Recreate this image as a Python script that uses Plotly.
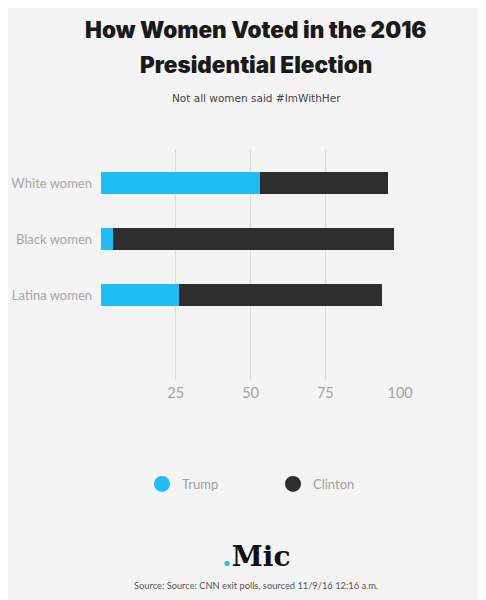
import plotly.graph_objects as go

groups = ['White women', 'Black women', 'Latina women']
trump = [53, 4, 26]
clinton = [43, 94, 68]
tick_vals = [0, 25, 50, 75, 100]
tick_text = ['', '25', '50', '75', '100']

blue = '#1fbdf3'
dark = '#2e2e2e'
bg = '#f4f4f4'

# the page body adds an 8px offset, so pixel positions are shifted back by it
off = 8
plot_left, plot_top, plot_w, plot_h = 101 - off, 150 - off, 300, 230

data = []
data.append(go.Bar(name='Trump', y=groups, x=trump, orientation='h',
                   marker=dict(color=blue, line=dict(width=0)),
                   width=0.38, showlegend=False))
data.append(go.Bar(name='Clinton', y=groups, x=clinton, orientation='h',
                   marker=dict(color=dark, line=dict(width=0)),
                   width=0.38, showlegend=False))

# legend entries drawn as round markers
for name, col in [('Trump', blue), ('Clinton', dark)]:
    data.append(go.Scatter(name=name, x=[None], y=[None], mode='markers',
                           marker=dict(color=col, size=22, symbol='circle')))

layout = go.Layout(
    width=486, height=600,
    paper_bgcolor=bg, plot_bgcolor=bg,
    margin=dict(l=plot_left, r=486 - plot_left - plot_w, t=plot_top,
                b=600 - plot_top - plot_h, autoexpand=False),
    barmode='stack',
    font=dict(family='Lato', color='#9a9a9a', size=12),
    xaxis=dict(range=[0, 100.3], tickvals=tick_vals, ticktext=tick_text,
               showgrid=True, gridcolor='#dcdcdc', gridwidth=1,
               zeroline=False, showline=False, ticks='', automargin=False,
               tickfont=dict(size=14.5, color='#a3a3a3'), ticklabelstandoff=2),
    yaxis=dict(type='category', range=[3.52, -0.59], showgrid=False,
               zeroline=False, showline=False, ticks='', automargin=False,
               tickfont=dict(size=13, color='#a6a6a6'), ticklabelstandoff=8),
    showlegend=True,
    legend=dict(orientation='h', x=(142 - 101) / 300, xanchor='left', y=-(484 - 380) / 230,
                yanchor='middle', bgcolor='rgba(0,0,0,0)', entrywidth=86,
                entrywidthmode='pixels', traceorder='normal',
                font=dict(size=13, color='#a0a0a0'), itemclick=False),
    annotations=[
        dict(text='How Women Voted in the 2016', y=30),
        dict(text='Presidential Election', y=65),
        dict(text='Not all women said #ImWithHer', y=98),
        dict(text="<span style='color:#1fbdf3'>.</span>Mic", y=556),
        dict(text='Source: Source: CNN exit polls, sourced 11/9/16 12:16 a.m.', y=585),
    ],
)

# place header / footer text in pixel rows of the reference
fonts = [dict(family='Inter', size=22.5, color='#1a1a1a', weight=900),
         dict(family='Inter', size=22.5, color='#1a1a1a', weight=900),
         dict(family='DejaVu Sans', size=10.5, color='#444444'),
         dict(family='DejaVu Serif', size=28, color='#111111', weight='bold'),
         dict(family='Lato', size=9.3, color='#555555')]
for ann, f in zip(layout.annotations, fonts):
    py = ann.y - off
    ann.showarrow = False
    ann.xref = 'paper'
    ann.yref = 'paper'
    ann.x = (256 - off - plot_left) / plot_w
    ann.y = (plot_top + plot_h - py) / plot_h
    ann.yanchor = 'middle'
    ann.xanchor = 'center'
    ann.font = f

fig = go.Figure(data=data, layout=layout)
fig.write_html('out.html')
